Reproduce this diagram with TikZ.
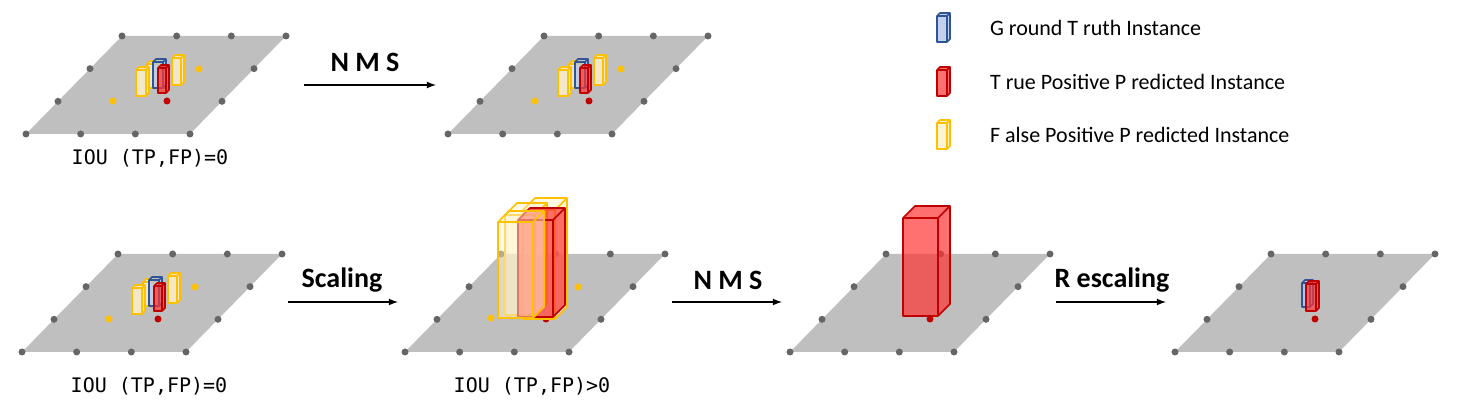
\documentclass[tikz,border=0pt]{standalone}
\usepackage{fontspec}
\setmainfont{Carlito}
\newfontfamily\monof{DejaVu Sans Mono}
\definecolor{pl}{HTML}{BFBFBF}
\definecolor{dt}{HTML}{666666}
\definecolor{org}{HTML}{FFC000}
\definecolor{orf}{HTML}{FFF2CC}
\definecolor{rd}{HTML}{C00000}
\definecolor{rdf}{HTML}{FF3333}
\definecolor{bl}{HTML}{2F5597}
\definecolor{blf}{HTML}{B4C7E7}
\tikzset{
 dot/.style={circle,fill=dt,inner sep=0pt,minimum size=3.5pt},
 odot/.style={circle,fill=org,inner sep=0pt,minimum size=3.5pt},
 rdot/.style={circle,fill=rd,inner sep=0pt,minimum size=3.5pt},
 arr/.style={-latex,line width=0.6pt},
 op/.style={font=\bfseries\fontsize{14}{16}\selectfont},
 iou/.style={font=\monof\fontsize{10}{12}\selectfont},
 leg/.style={anchor=west,font=\fontsize{11}{13}\selectfont}
}
\newcommand{\myplane}[2]{%
 \begin{scope}[shift={(#1,#2)}]
 \fill[pl] (0,0)--(164,0)--(260,-98)--(96,-98)--cycle;
 \foreach \i in {0,1,2,3}{
  \node[dot] at ({54.67*\i},0) {};
  \node[dot] at ({96+54.67*\i},-98) {};}
 \foreach \j in {1,2}{
  \node[dot] at ({32*\j},{-32.67*\j}) {};
  \node[dot] at ({164+32*\j},{-32.67*\j}) {};}
 \end{scope}}
% x y w h d draw fill opacity
\newcommand{\cub}[8]{%
 \filldraw[draw=#6,fill=#7,fill opacity=#8,line width=0.8pt,line join=round]
  (#1,#2-#4)--(#1+#3,#2-#4)--(#1+#3+#5,#2-#4-#5)--(#1+#5,#2-#4-#5)--cycle
  (#1+#3,#2)--(#1+#3+#5,#2-#5)--(#1+#3+#5,#2-#4-#5)--(#1+#3,#2-#4)--cycle
  (#1,#2) rectangle (#1+#3,#2-#4);}
\newcommand{\smallset}{%
 \cub{147}{88}{11}{24}{3}{org}{orf}{0.8}
 \cub{172}{85}{9}{27}{3}{org}{orf}{0.8}
 \cub{153}{88}{10}{26}{3}{bl}{blf}{0.8}
 \cub{158}{93}{8}{25}{3}{rd}{rdf}{0.7}
 \cub{136}{96}{10}{26}{3}{org}{orf}{0.8}}
\begin{document}
\begin{tikzpicture}[x=0.5pt,y=-0.5pt]
\useasboundingbox (0,0) rectangle (1458,416);
% top row
\myplane{26}{134}
\node[odot] at (199,69) {}; \node[odot] at (113,101) {}; \node[rdot] at (167,101) {};
\smallset
\node[iou] (l1) at (150,158) {IOU (TP,FP)=0};
\myplane{448}{134}
\node[odot] at (621,69) {}; \node[odot] at (535,101) {}; \node[rdot] at (589,101) {};
\begin{scope}[shift={(422,0)}]\smallset\end{scope}
\coordinate (a1s) at (304,85); \coordinate (a1e) at (436,85);
\draw[arr] (a1s) -- (a1e);
\node[op] (n1) at (365,62) {N M S};
% legend
\cub{937}{42}{10}{26}{3}{bl}{blf}{0.8}
\cub{937}{96}{10}{26}{3}{rd}{rdf}{0.7}
\cub{937}{149}{10}{26}{3}{org}{orf}{0.8}
\node[leg] (g1) at (983,28) {G round T ruth Instance};
\node[leg] (g2) at (983,82) {T rue Positive P redicted Instance};
\node[leg] (g3) at (983,135) {F alse Positive P redicted Instance};
% bottom row
\myplane{22}{352}
\node[odot] at (195,287) {}; \node[odot] at (109,319) {}; \node[rdot] at (158,319) {};
\begin{scope}[shift={(-4,218)}]\smallset\end{scope}
\node[iou] (l2) at (149,386) {IOU (TP,FP)=0};
\myplane{405}{352}
\node[odot] at (491,318) {}; \node[odot] at (578,287) {}; \node[rdot] at (546,319) {};
\cub{523}{319}{32}{109}{12}{org}{orf}{0.55}
\cub{505}{315}{30}{100}{12}{org}{orf}{0.45}
\cub{518}{317}{35}{97}{12}{rd}{rdf}{0.7}
\cub{498}{318}{35}{96}{11}{org}{orf}{0.5}
\node[iou] (l3) at (532,386) {IOU (TP,FP)>0};
\myplane{790}{352}
\cub{903}{316}{35}{98}{12}{rd}{rdf}{0.7}
\node[rdot] at (930,319) {};
\myplane{1175}{352}
\cub{1302}{307}{8}{24}{3}{bl}{blf}{0.8}
\cub{1306}{311}{10}{27}{3}{rd}{rdf}{0.7}
\node[rdot] at (1315,319) {};
\coordinate (b1s) at (288,302); \coordinate (b1e) at (398,302);
\coordinate (b2s) at (672,302); \coordinate (b2e) at (782,302);
\coordinate (b3s) at (1056,302); \coordinate (b3e) at (1166,302);
\draw[arr] (b1s) -- (b1e); \draw[arr] (b2s) -- (b2e); \draw[arr] (b3s) -- (b3e);
\node[op] (s1) at (342,280) {Scaling};
\node[op] (s2) at (728,280) {N M S};
\node[op] (s3) at (1112,280) {R escaling};
\end{tikzpicture}
\end{document}
